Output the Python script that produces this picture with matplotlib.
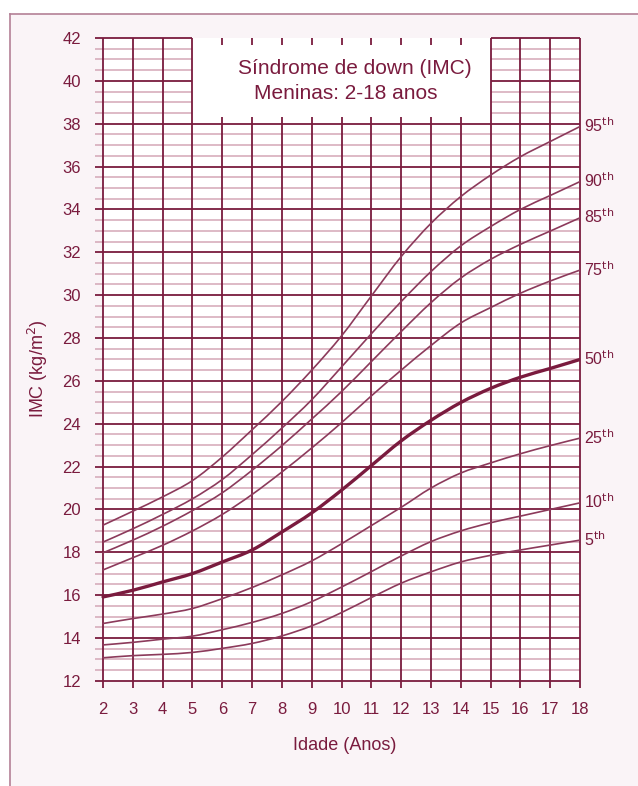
import numpy as np
import matplotlib
matplotlib.use("Agg")
import matplotlib.pyplot as plt
from matplotlib.patches import Rectangle, PathPatch
from matplotlib.path import Path
from matplotlib.lines import Line2D

plt.rcParams["font.family"] = ["Liberation Sans", "DejaVu Sans"]

# Data (BMI by age, percentiles)
ages = [2, 3, 4, 5, 6, 7, 8, 9, 10, 11, 12, 13, 14, 15, 16, 17, 18]
p95 = [19.27, 19.92, 20.59, 21.35, 22.45, 23.72, 25.04, 26.5, 28.1, 29.96, 31.8, 33.35, 34.6, 35.6, 36.46, 37.17, 37.87]
p90 = [18.48, 19.1, 19.77, 20.5, 21.4, 22.56, 23.8, 25.12, 26.65, 28.2, 29.7, 31.1, 32.3, 33.2, 34.0, 34.65, 35.3]
p85 = [17.98, 18.57, 19.22, 19.95, 20.78, 21.83, 22.98, 24.22, 25.5, 26.9, 28.3, 29.65, 30.8, 31.67, 32.37, 32.99, 33.61]
p75 = [17.18, 17.75, 18.33, 19.0, 19.77, 20.7, 21.75, 22.87, 24.05, 25.3, 26.5, 27.65, 28.7, 29.42, 30.09, 30.66, 31.17]
p50 = [15.92, 16.23, 16.62, 17.01, 17.55, 18.11, 18.95, 19.84, 20.9, 22.05, 23.2, 24.16, 24.99, 25.65, 26.17, 26.58, 27.0]
p25 = [14.68, 14.91, 15.12, 15.38, 15.84, 16.36, 16.95, 17.6, 18.4, 19.25, 20.1, 21.0, 21.7, 22.17, 22.6, 22.98, 23.33]
p10 = [13.68, 13.8, 13.95, 14.09, 14.39, 14.73, 15.15, 15.7, 16.38, 17.1, 17.83, 18.5, 19.0, 19.38, 19.69, 20.0, 20.31]
p5 = [13.08, 13.18, 13.24, 13.33, 13.52, 13.75, 14.1, 14.57, 15.19, 15.89, 16.56, 17.09, 17.55, 17.86, 18.11, 18.34, 18.57]

curves = [("95", p95), ("90", p90), ("85", p85), ("75", p75),
          ("50", p50), ("25", p25), ("10", p10), ("5", p5)]

x_ticks = list(range(2, 19))
y_ticks = list(range(12, 43, 2))

dark = "#7a1b3e"
curve_col = "#8c3a5b"
minor_col = "#d4a7b7"
bg = "#faf4f7"


def smooth_path(xs, ys):
    # Catmull-Rom through the read points, drawn as cubic Bezier segments
    pts = np.column_stack([xs, ys]).astype(float)
    ext = np.vstack([pts[0], pts, pts[-1]])
    verts = [pts[0]]
    codes = [Path.MOVETO]
    for i in range(1, len(ext) - 2):
        p0, p1, p2, p3 = ext[i - 1], ext[i], ext[i + 1], ext[i + 2]
        verts += [p1 + (p2 - p0) / 6, p2 - (p3 - p1) / 6, p2]
        codes += [Path.CURVE4] * 3
    return Path(verts, codes)


W, H = 638, 786
fig = plt.figure(figsize=(W / 100, H / 100), dpi=100)
fig.patch.set_facecolor("white")

# pink panel with left/top border
fig.patches.append(Rectangle((10 / W, 0), 1, 1 - 14 / H, transform=fig.transFigure,
                             facecolor=bg, edgecolor="none", zorder=-2))
fig.lines.append(Line2D([10 / W, 10 / W], [0, 1 - 14 / H], transform=fig.transFigure,
                        color="#b48096", lw=1.2, zorder=-1))
fig.lines.append(Line2D([10 / W, 1], [1 - 14 / H, 1 - 14 / H], transform=fig.transFigure,
                        color="#b48096", lw=1.2, zorder=-1))

ax = fig.add_axes([95 / W, 1 - 688 / H, 485 / W, 650 / H])
ax.set_zorder(1)
ax.set_xlim(1.73, 18)
ax.set_ylim(11.67, 42)
ax.patch.set_alpha(0)
for s in ax.spines.values():
    s.set_visible(False)

ax.add_patch(Rectangle((2, 12), 16, 30, facecolor="white", edgecolor="none", zorder=0))

# horizontal grid (every 0.5, darker on even numbers), title box area left open
box_x0, box_x1, box_y0 = 5, 15, 38
for y in np.arange(12, 42.01, 0.5):
    major = (y % 2 == 0)
    col = dark if major else minor_col
    lw = 1.3 if major else 1.1
    z = 2 if major else 1
    if y > box_y0:
        ax.hlines(y, 1.73, box_x0, color=col, lw=lw, zorder=z, clip_on=False)
        ax.hlines(y, box_x1, 18, color=col, lw=lw, zorder=z, clip_on=False)
    else:
        ax.hlines(y, 1.73, 18, color=col, lw=lw, zorder=z, clip_on=False)

# vertical grid
for x in x_ticks:
    if box_x0 < x < box_x1:
        ax.vlines(x, 11.67, box_y0 + 0.33, color=dark, lw=1.3, zorder=2, clip_on=False)
        ax.vlines(x, 41.67, 42, color=dark, lw=1.3, zorder=2, clip_on=False)
    else:
        ax.vlines(x, 11.67, 42, color=dark, lw=1.3, zorder=2, clip_on=False)

# percentile curves
for name, vals in curves:
    thick = name == "50"
    ax.add_patch(PathPatch(smooth_path(ages, vals), facecolor="none",
                           edgecolor=dark if thick else curve_col,
                           lw=2.4 if thick else 1.2, zorder=3, capstyle="round"))
    ax.annotate(name + r"$^{\mathrm{th}}$", (ages[-1], vals[-1]), xytext=(3, -4),
                textcoords="offset points", ha="left", va="baseline",
                fontsize=11.5, color=dark, annotation_clip=False)

ax.set_xticks(x_ticks)
ax.set_yticks(y_ticks)
ax.tick_params(length=0, pad=10, labelsize=12, colors=dark)

# title box text
ax.text(10.45, 40.34, "Síndrome de down (IMC)", ha="center", va="baseline",
        fontsize=15, color=dark, zorder=4)
ax.text(10.15, 39.16, "Meninas: 2-18 anos", ha="center", va="baseline",
        fontsize=15, color=dark, zorder=4)

fig.text(345 / W, 1 - 745 / H, "Idade (Anos)", ha="center", va="center",
         fontsize=13, color=dark)
fig.text(38 / W, 1 - 369 / H, r"IMC (kg/m$^2$)", ha="center", va="center",
         rotation=90, fontsize=13, color=dark)

fig.savefig("out.png", dpi=100, facecolor=fig.get_facecolor())
